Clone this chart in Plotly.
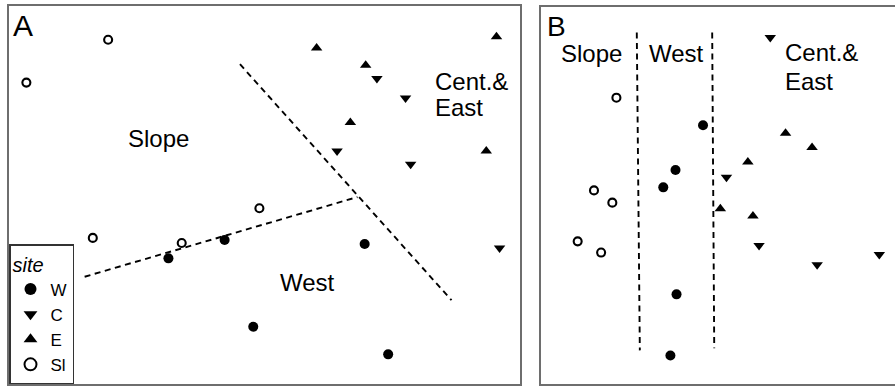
import plotly.graph_objects as go

# Ordination scores (axis 1, axis 2) for each sampling site, by region
# Panel A
a_w_x = [-0.94, -0.39, -0.11, 0.98, 1.21]
a_w_y = [-0.62, -0.44, -1.29, -0.48, -1.56]
a_c_x = [1.10, 1.38, 0.71, 1.43, 2.30]
a_c_y = [1.14, 0.95, 0.43, 0.30, -0.52]
a_e_x = [0.51, 0.99, 0.84, 2.27, 2.17]
a_e_y = [1.44, 1.27, 0.71, 1.55, 0.43]
a_sl_x = [-1.53, -2.33, -1.68, -0.81, -0.05]
a_sl_y = [1.52, 1.10, -0.42, -0.47, -0.13]

# Panel A group boundaries
a_split1_x = [-0.24, 1.83]
a_split1_y = [1.28, -1.03]
a_split2_x = [-1.76, 0.91]
a_split2_y = [-0.80, -0.02]

# Panel B
b_w_x = [-0.11, -0.38, -0.50, -0.37, -0.43]
b_w_y = [0.69, 0.25, 0.08, -0.97, -1.57]
b_c_x = [0.55, 0.12, 0.44, 1.01, 1.62]
b_c_y = [1.55, 0.18, -0.49, -0.68, -0.58]
b_e_x = [0.33, 0.70, 0.96, 0.06, 0.38]
b_e_y = [0.33, 0.61, 0.47, -0.13, -0.20]
b_sl_x = [-0.96, -1.18, -1.00, -1.34, -1.11]
b_sl_y = [0.96, 0.05, -0.07, -0.45, -0.56]

# Panel B group boundaries
b_split1_x = [-0.76, -0.73]
b_split1_y = [1.60, -1.52]
b_split2_x = [-0.02, 0.00]
b_split2_y = [1.60, -1.50]

site_names = ["W", "C", "E", "Sl"]

FONT = "Liberation Sans, Arial, Helvetica, sans-serif"

styles = {
    "W": dict(symbol="circle", size=10, color="black"),
    "C": dict(symbol="triangle-down", size=10, color="black"),
    "E": dict(symbol="triangle-up", size=10, color="black"),
    "Sl": dict(symbol="circle-open", size=8, color="black",
               line=dict(width=2.1, color="black")),
}

fig = go.Figure()

panel_a = {"W": (a_w_x, a_w_y), "C": (a_c_x, a_c_y),
           "E": (a_e_x, a_e_y), "Sl": (a_sl_x, a_sl_y)}
panel_b = {"W": (b_w_x, b_w_y), "C": (b_c_x, b_c_y),
           "E": (b_e_x, b_e_y), "Sl": (b_sl_x, b_sl_y)}

dash_line = dict(color="black", width=1.9, dash="6px,4.5px")

# Boundaries first so the markers sit on top
for xs, ys in [(a_split1_x, a_split1_y), (a_split2_x, a_split2_y)]:
    fig.add_trace(go.Scatter(x=xs, y=ys, mode="lines", line=dash_line,
                             showlegend=False, hoverinfo="skip",
                             xaxis="x", yaxis="y"))
for xs, ys in [(b_split1_x, b_split1_y), (b_split2_x, b_split2_y)]:
    fig.add_trace(go.Scatter(x=xs, y=ys, mode="lines", line=dash_line,
                             showlegend=False, hoverinfo="skip",
                             xaxis="x2", yaxis="y2"))

for name in site_names:
    xs, ys = panel_a[name]
    fig.add_trace(go.Scatter(x=xs, y=ys, mode="markers", name=name,
                             legendgroup=name, marker=styles[name],
                             xaxis="x", yaxis="y"))
for name in site_names:
    xs, ys = panel_b[name]
    fig.add_trace(go.Scatter(x=xs, y=ys, mode="markers", name=name,
                             legendgroup=name, showlegend=False,
                             marker=styles[name], xaxis="x2", yaxis="y2"))

W, H = 895, 386
frame = dict(showgrid=False, zeroline=False, showticklabels=False, ticks="",
             showline=True, linecolor="#6e6e6e", linewidth=1.5, fixedrange=True)

fig.update_layout(
    width=W, height=H,
    margin=dict(l=0, r=0, t=0, b=0),
    paper_bgcolor="white", plot_bgcolor="white",
    font=dict(family=FONT, color="black"),
    xaxis=dict(domain=[9 / W, 520 / W], range=[-2.5, 2.5], mirror=True, **frame),
    yaxis=dict(domain=[2 / H, 380 / H], range=[-1.85, 1.85], mirror=True, **frame),
    xaxis2=dict(domain=[541 / W, 1.0], range=[-1.7, 1.774], mirror=True,
                anchor="y2", **frame),
    yaxis2=dict(domain=[2 / H, 379 / H], range=[-1.85, 1.85], mirror=False,
                anchor="x2", **frame),
    showlegend=True,
    legend=dict(
        x=9 / W, y=2 / H, xanchor="left", yanchor="bottom",
        bgcolor="white", bordercolor="#333333", borderwidth=1.5,
        font=dict(family=FONT, size=17, color="black"),
        title=dict(text="<i>site</i>", font=dict(family=FONT, size=20)),
        itemwidth=30, itemsizing="constant", tracegroupgap=0,
    ),
)

def label(text, x, y, size=24, ref="", xanchor="center"):
    fig.add_annotation(text=text, x=x, y=y, xref="x" + ref, yref="y" + ref,
                       showarrow=False, xanchor=xanchor, yanchor="middle",
                       font=dict(family=FONT, size=size, color="black"))

# Panel A labels
label("A", -2.36, 1.66, size=30)
label("Slope", -1.04, 0.55)
label("West", 0.42, -0.86)
label("Cent.&", 1.65, 1.11, xanchor="left")
label("East", 1.65, 0.86, xanchor="left")

# Panel B labels
label("B", -1.55, 1.66, size=28, ref="2")
label("Slope", -1.20, 1.39, ref="2")
label("West", -0.37, 1.39, ref="2")
label("Cent.&", 0.675, 1.40, ref="2", xanchor="left")
label("East", 0.675, 1.12, ref="2", xanchor="left")

fig.write_html("out.html")
